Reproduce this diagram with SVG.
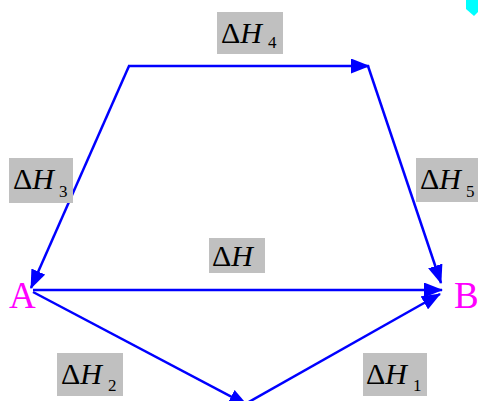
<svg xmlns="http://www.w3.org/2000/svg" width="478" height="401" viewBox="0 0 478 401">
<style>
.e{stroke:#0000ff;stroke-width:2.5;fill:none;marker-end:url(#ah)}
.bx{fill:#c0c0c0}
.t{font-size:30px;fill:#000}
.i{font-style:italic}
.s{font-size:17px}
.p{font-size:37px;fill:#ff00ff}
</style>
<defs>
<marker id="ah" markerUnits="userSpaceOnUse" markerWidth="19" markerHeight="15" refX="18" refY="7.5" orient="auto">
<path d="M0,0 L19,7.5 L0,15 Z" fill="#0000ff"/>
</marker>
</defs>
<rect width="478" height="401" fill="#fff"/>
<polygon points="466,0 478,0 478,12 474,16 466,9" fill="#00ffff"/>
<g id="connectors">
<polyline class="e" points="128,66 369,66"/>
<polyline class="e" points="368,66 441,283"/>
<polyline class="e" points="129,66 31,288"/>
<polyline class="e" points="33,290 442,290"/>
<polyline class="e" points="33,292 247,405"/>
<polyline class="e" points="247,403 440,294"/>
</g>
<g font-family="Liberation Serif, DejaVu Serif, serif">
<g id="A"><text class="p" x="9" y="308">A</text></g>
<g id="B"><text class="p" x="454" y="308">B</text></g>
<g id="dH4"><rect class="bx" x="217" y="12" width="66" height="42"/><text class="t" x="221" y="43">Δ<tspan class="i">H</tspan><tspan class="s" dx="6" dy="5">4</tspan></text></g>
<g id="dH3"><rect class="bx" x="9" y="158" width="64" height="45"/><text class="t" x="13" y="189">Δ<tspan class="i">H</tspan><tspan class="s" dx="5" dy="8">3</tspan></text></g>
<g id="dH5"><rect class="bx" x="416" y="158" width="62" height="44"/><text class="t" x="420" y="189">Δ<tspan class="i">H</tspan><tspan class="s" dx="5" dy="8">5</tspan></text></g>
<g id="dH"><rect class="bx" x="209" y="238" width="56" height="35"/><text class="t" x="212" y="266">Δ<tspan class="i">H</tspan></text></g>
<g id="dH2"><rect class="bx" x="57" y="353" width="66" height="43"/><text class="t" x="61" y="384">Δ<tspan class="i">H</tspan><tspan class="s" dx="6" dy="7">2</tspan></text></g>
<g id="dH1"><rect class="bx" x="363" y="353" width="64" height="43"/><text class="t" x="366" y="384">Δ<tspan class="i">H</tspan><tspan class="s" dx="6" dy="7">1</tspan></text></g>
</g>
</svg>
